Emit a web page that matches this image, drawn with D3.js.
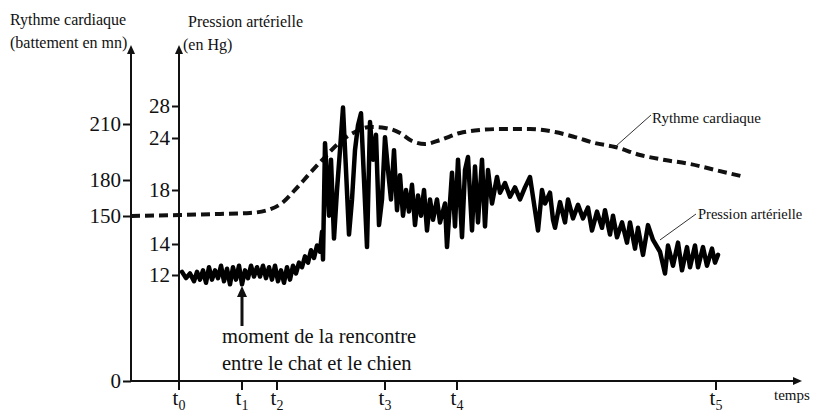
<!DOCTYPE html>
<html>
<head>
<meta charset="utf-8">
<script src="https://cdn.jsdelivr.net/npm/d3@7"></script>
<style>
  body { margin: 0; background: #fff; }
  svg text { font-family: "Liberation Serif", "Times New Roman", serif; fill: #111; }
</style>
</head>
<body>
<div id="chart"></div>
<script>
// ticks of both vertical axes (the axes are broken, not linear)
var rythmeTicks = [0, 150, 180, 210];
var pressionTicks = [12, 14, 18, 24, 28];

// time marks on the horizontal axis (arbitrary time units, t0 = 0)
var timeLabels = ["0", "1", "2", "3", "4", "5"];
var timeValues = [0, 63, 98, 206, 278, 537];

// heart rate (beats / mn) : [time, value]
var rythmePoints = [
  [-48, 150], [0, 150.8], [41, 151.7], [71, 152.5], [89, 155], [103, 160.8],
  [116, 171.7], [131, 183.7], [146, 192.3], [161, 200.4], [176, 205.7],
  [191, 208.4], [206, 207.9], [221, 205.2], [233, 200.9], [246, 199.3],
  [261, 201.4], [281, 205.2], [301, 206.8], [321, 207.3], [351, 207.3],
  [376, 205.7], [396, 203], [416, 199.8], [436, 197.7], [461, 193.4],
  [486, 190.7], [511, 188.6], [536, 185.4], [566, 181.6]
];

// blood pressure (cm Hg) : [time, value]
var pressionPoints = [
  [3, 12.2], [7, 11.8], [11, 12.1], [15, 11.6], [18, 12.2], [21, 11.7], [24, 12.3],
  [27, 11.5], [30, 12.5], [33, 11.7], [36, 12.3], [39, 11.8], [42, 12.6], [45, 11.6],
  [48, 12.4], [51, 11.4], [54, 12.5], [57, 11.7], [60, 12.6], [63, 11.4], [66, 12.3],
  [69, 11.8], [72, 12.6], [75, 11.9], [78, 12.5], [81, 11.9], [84, 12.6], [87, 11.8],
  [90, 12.5], [93, 11.7], [96, 12.6], [99, 11.6], [102, 12.3], [105, 11.5], [108, 12.5],
  [111, 11.7], [114, 12.6], [117, 12.1], [120, 12.8], [123, 12.5], [126, 13.2],
  [129, 12.8], [132, 13.6], [135, 13.1], [138, 13.9], [141, 13.5], [143, 14.9],
  [144, 13.0], [146, 23.4], [150, 16.1], [152, 21.5], [155, 14.4], [158, 18.0],
  [161, 22.6], [164, 27.8], [167, 20.3], [170, 14.7], [173, 17.3], [176, 22.6],
  [179, 25.6], [182, 27.1], [185, 19.2], [188, 13.8], [191, 26.0], [194, 21.5],
  [197, 24.4], [200, 15.4], [203, 17.3], [206, 24.1], [209, 20.3], [212, 17.3],
  [215, 22.6], [218, 16.5], [221, 19.7], [224, 16.1], [227, 18.0], [230, 16.4],
  [233, 18.6], [236, 15.4], [239, 17.6], [242, 16.1], [245, 18.0], [248, 15.0],
  [251, 17.3], [254, 15.8], [258, 17.3], [261, 15.6], [266, 17.0], [268, 13.8],
  [273, 20.0], [276, 15.3], [279, 21.5], [283, 14.5], [286, 20.3], [289, 21.8],
  [293, 15.0], [296, 20.7], [299, 15.6], [303, 21.5], [306, 15.3], [309, 20.3],
  [313, 17.0], [318, 19.5], [321, 17.8], [326, 18.8], [331, 17.5], [336, 18.3],
  [341, 17.3], [346, 18.3], [351, 19.5], [356, 16.5], [359, 15.0], [363, 18.0],
  [366, 17.0], [371, 17.8], [374, 15.8], [376, 15.2], [381, 17.1], [386, 15.6],
  [389, 17.3], [394, 15.9], [399, 16.9], [404, 15.9], [409, 16.7], [413, 15.0],
  [418, 16.4], [423, 15.2], [426, 16.5], [431, 14.7], [434, 16.1], [438, 14.5],
  [443, 15.6], [448, 14.1], [451, 15.6], [456, 13.7], [459, 15.2], [464, 13.3],
  [469, 15.4], [474, 14.3], [481, 13.5], [486, 12.1], [489, 13.9], [494, 12.6],
  [499, 14.1], [503, 12.3], [508, 13.8], [511, 12.5], [516, 13.9], [519, 12.5],
  [524, 13.8], [528, 12.6], [533, 13.7], [536, 12.8], [539, 13.3]
];

var width = 813, height = 414;

var svg = d3.select("#chart").append("svg")
  .attr("width", width)
  .attr("height", height);

// scales
var x = d3.scaleLinear().domain([-48, 622]).range([131, 801]);
var yRythme = d3.scaleLinear().domain([0, 150, 180, 210]).range([381, 216, 180, 124]);
var yPression = d3.scaleLinear().domain([12, 14, 18, 24, 28]).range([275, 244, 190, 138, 106]);

var axisTop = 45;

// arrow heads
function arrowHead(px, py, dir) {
  var s = 4, l = 9, pts;
  if (dir == "up") pts = [[px, py], [px - s, py + l], [px + s, py + l]];
  else pts = [[px, py], [px - l, py - s], [px - l, py + s]];
  svg.append("path")
    .attr("d", d3.line()(pts) + "Z")
    .attr("fill", "#111");
}

// left axis (heart rate)
var axisRythme = svg.append("g")
  .attr("transform", "translate(" + x(-48) + ",0)")
  .call(d3.axisLeft(yRythme).tickValues(rythmeTicks).tickSize(8).tickPadding(2));
axisRythme.select(".domain").remove();
axisRythme.selectAll("line").attr("stroke", "#111").attr("stroke-width", 2);
axisRythme.selectAll("text").style("font-size", "21px").attr("fill", "#111");
svg.append("line")
  .attr("x1", x(-48)).attr("x2", x(-48))
  .attr("y1", yRythme(0)).attr("y2", axisTop + 4)
  .attr("stroke", "#111").attr("stroke-width", 2);
arrowHead(x(-48), axisTop, "up");

// second axis (blood pressure) placed at t0
var axisPression = svg.append("g")
  .attr("transform", "translate(" + x(0) + ",0)")
  .call(d3.axisLeft(yPression).tickValues(pressionTicks).tickSize(7).tickPadding(2));
axisPression.select(".domain").remove();
axisPression.selectAll("line").attr("stroke", "#111").attr("stroke-width", 2);
axisPression.selectAll("text").style("font-size", "21px").attr("fill", "#111");
svg.append("line")
  .attr("x1", x(0)).attr("x2", x(0))
  .attr("y1", yRythme(0)).attr("y2", axisTop + 4)
  .attr("stroke", "#111").attr("stroke-width", 2);
arrowHead(x(0), axisTop, "up");

// time axis
svg.append("line")
  .attr("x1", x(-48)).attr("x2", 795)
  .attr("y1", yRythme(0)).attr("y2", yRythme(0))
  .attr("stroke", "#111").attr("stroke-width", 2);
arrowHead(802, yRythme(0), "right");

var tg = svg.selectAll(".tmark")
  .data(timeValues)
  .enter().append("g")
  .attr("transform", function(d) { return "translate(" + x(d) + "," + yRythme(0) + ")"; });
tg.append("line")
  .attr("y1", 0).attr("y2", 9)
  .attr("stroke", "#111").attr("stroke-width", 2);
var tt = tg.append("text")
  .attr("y", 24)
  .attr("text-anchor", "middle")
  .style("font-size", "21px");
tt.append("tspan").text("t");
tt.append("tspan")
  .attr("dy", 5)
  .style("font-size", "14px")
  .text(function(d, i) { return timeLabels[i]; });

svg.append("text")
  .attr("x", 774).attr("y", 400)
  .style("font-size", "15px")
  .text("temps");

// axis titles
svg.append("text").attr("x", 10).attr("y", 25).style("font-size", "16px").text("Rythme cardiaque");
svg.append("text").attr("x", 10).attr("y", 48).style("font-size", "16px").text("(battement en mn)");
svg.append("text").attr("x", 188).attr("y", 27).style("font-size", "16px").text("Pression artérielle");
svg.append("text").attr("x", 183).attr("y", 50).style("font-size", "16px").text("(en Hg)");

// heart rate: dashed curve
var lineRythme = d3.line()
  .x(function(d) { return x(d[0]); })
  .y(function(d) { return yRythme(d[1]); })
  .curve(d3.curveMonotoneX);
svg.append("path")
  .datum(rythmePoints)
  .attr("d", lineRythme)
  .attr("fill", "none")
  .attr("stroke", "#111")
  .attr("stroke-width", 4)
  .attr("stroke-dasharray", "9,5");

// blood pressure: jagged solid curve
var linePression = d3.line()
  .x(function(d) { return x(d[0]); })
  .y(function(d) { return yPression(d[1]); });
svg.append("path")
  .datum(pressionPoints)
  .attr("d", linePression)
  .attr("fill", "none")
  .attr("stroke", "#000")
  .attr("stroke-width", 4.5)
  .attr("stroke-linejoin", "round")
  .attr("stroke-linecap", "round");

// series labels with leader lines
svg.append("line")
  .attr("x1", x(436)).attr("y1", yRythme(197.7))
  .attr("x2", 651).attr("y2", 115)
  .attr("stroke", "#333").attr("stroke-width", 1);
svg.append("text").attr("x", 652).attr("y", 123).style("font-size", "15px").text("Rythme cardiaque");

svg.append("line")
  .attr("x1", x(481)).attr("y1", yPression(14.3))
  .attr("x2", 696).attr("y2", 214)
  .attr("stroke", "#333").attr("stroke-width", 1);
svg.append("text").attr("x", 698).attr("y", 219).style("font-size", "14.5px").text("Pression artérielle");

// annotation: moment of the encounter
var ax = x(timeValues[1]);
svg.append("line")
  .attr("x1", ax).attr("x2", ax)
  .attr("y1", 326).attr("y2", 295)
  .attr("stroke", "#111").attr("stroke-width", 3);
svg.append("path")
  .attr("d", d3.line()([[ax, 286], [ax - 5, 297], [ax + 5, 297]]) + "Z")
  .attr("fill", "#111");
svg.append("text").attr("x", 222).attr("y", 343).style("font-size", "20.5px").text("moment de la rencontre");
svg.append("text").attr("x", 222).attr("y", 370).style("font-size", "20.5px").text("entre le chat et le chien");
</script>
</body>
</html>
